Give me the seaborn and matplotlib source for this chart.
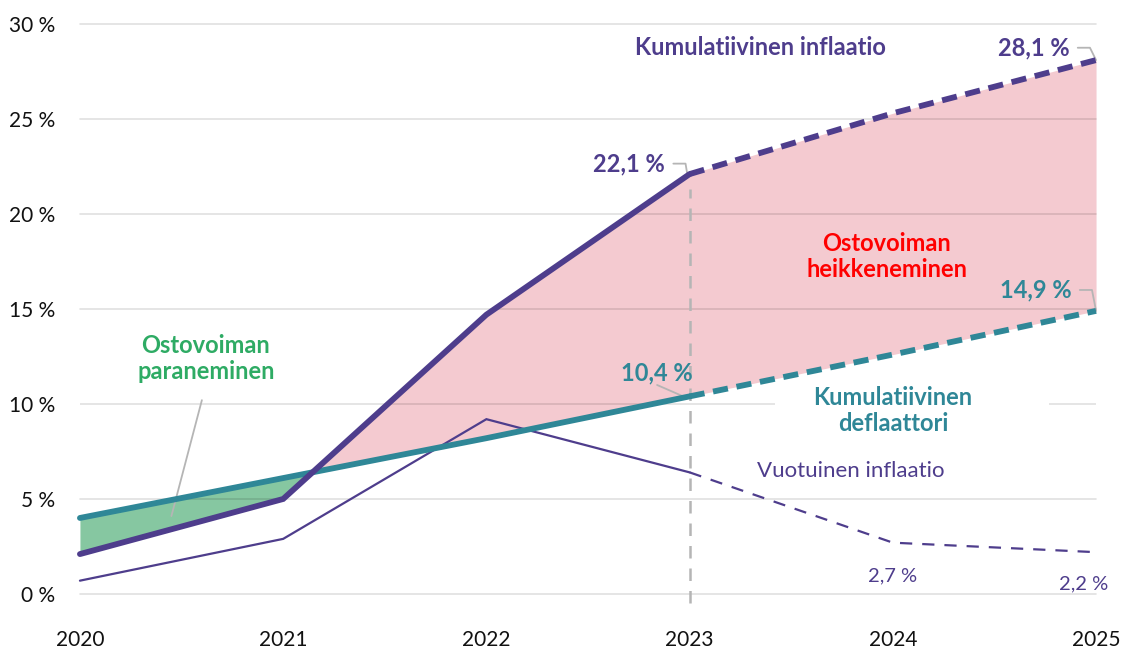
import pandas as pd
import matplotlib.pyplot as plt
import seaborn as sns

# data
years = [2020, 2021, 2022, 2023, 2024, 2025]
cum_inflation = [2.1, 5.0, 14.7, 22.1, 25.3, 28.1]
cum_deflator = [4.0, 6.1, 8.2, 10.4, 12.6, 14.9]
annual_inflation = [0.7, 2.9, 9.2, 6.4, 2.7, 2.2]
y_ticks = [0, 5, 10, 15, 20, 25, 30]
y_tick_labels = ['0 %', '5 %', '10 %', '15 %', '20 %', '25 %', '30 %']
forecast_start = 2023

df = pd.DataFrame({'year': years, 'cum_inf': cum_inflation,
                   'cum_def': cum_deflator, 'annual': annual_inflation})
hist = df[df['year'] <= forecast_start]
fcst = df[df['year'] >= forecast_start]

sns.set_style("white")
plt.rcParams['font.family'] = ['Lato', 'DejaVu Sans']

purple = '#4e3d8c'
teal = '#2f8797'
pink = '#f4cad0'
green_fill = '#86c7a1'
green_txt = '#2eab64'
grey = '#b5b5b5'

fig = plt.figure(figsize=(11.26, 6.5), dpi=100)
ax = fig.add_axes([0.071, 0.0862, 0.9024, 0.8769])

# fills between cumulative series
ax.fill_between(df['year'], df['cum_def'], df['cum_inf'],
                where=df['cum_inf'] >= df['cum_def'], interpolate=True,
                color=pink, lw=0, zorder=1)
ax.fill_between(df['year'], df['cum_def'], df['cum_inf'],
                where=df['cum_inf'] <= df['cum_def'], interpolate=True,
                color=green_fill, lw=0, zorder=1)

# gridlines (10 % line has a gap behind the deflator label)
for t in y_ticks:
    if t == 10:
        ax.hlines([t, t], [2020, 2024.77], [2023.42, 2025], color='black', alpha=0.12, lw=1.2, zorder=2)
    else:
        ax.axhline(t, color='black', alpha=0.12, lw=1.2, zorder=2)

# vertical forecast marker
ax.plot([forecast_start, forecast_start], [-0.5, 21.3], color=grey, lw=1.8,
        ls=(0, (5, 4)), zorder=2, clip_on=False)

# annual inflation
sns.lineplot(data=hist, x='year', y='annual', ax=ax, color=purple, lw=1.6, zorder=4)
l = sns.lineplot(data=fcst, x='year', y='annual', ax=ax, color=purple, lw=1.6, zorder=4)
l.lines[-1].set_dashes((5.5, 4.5))

# cumulative deflator
sns.lineplot(data=hist, x='year', y='cum_def', ax=ax, color=teal, lw=4.2, zorder=5)
l = sns.lineplot(data=fcst, x='year', y='cum_def', ax=ax, color=teal, lw=4.2, zorder=5)
l.lines[-1].set_dashes((2.6, 1.5))

# cumulative inflation
sns.lineplot(data=hist, x='year', y='cum_inf', ax=ax, color=purple, lw=4.2, zorder=6)
l = sns.lineplot(data=fcst, x='year', y='cum_inf', ax=ax, color=purple, lw=4.2, zorder=6)
l.lines[-1].set_dashes((2.6, 1.5))

for ln in ax.lines:
    ln.set_clip_on(False)
    ln.set_solid_joinstyle('miter')

ax.set_xlim(2020, 2025)
ax.set_ylim(0, 30)
ax.set_xticks(years)
ax.set_xticklabels([str(y) for y in years])
ax.set_yticks(y_ticks)
ax.set_yticklabels(y_tick_labels)
ax.tick_params(axis='x', length=0, pad=26, labelsize=15, colors='#111111')
ax.tick_params(axis='y', length=0, pad=18, labelsize=15, colors='#111111')
ax.set_xlabel('')
ax.set_ylabel('')
sns.despine(ax=ax, left=True, bottom=True)

bold = dict(fontsize=17, fontweight='bold')

# labels
ax.text(2023.35, 28.75, 'Kumulatiivinen inflaatio', color=purple, ha='center', va='center', **bold)
ax.text(2024.87, 28.75, '28,1 %', color=purple, ha='right', va='center', **bold)
ax.plot([2024.91, 2024.97, 2025.0], [28.75, 28.75, 28.1], color=grey, lw=1.3, clip_on=False, zorder=3)

ax.text(2022.88, 22.65, '22,1 %', color=purple, ha='right', va='center', **bold)
ax.plot([2022.92, 2022.98, 2022.99], [22.65, 22.65, 22.0], color=grey, lw=1.3, zorder=3)

ax.text(2023.97, 17.75, 'Ostovoiman\nheikkeneminen', color='#ff0000', ha='center', va='center',
        linespacing=1.15, **bold)

ax.text(2024.88, 16.0, '14,9 %', color=teal, ha='right', va='center', **bold)
ax.plot([2024.92, 2024.98, 2025.0], [16.0, 16.0, 14.9], color=grey, lw=1.3, zorder=3, clip_on=False)

ax.text(2022.84, 11.65, '10,4 %', color=teal, ha='center', va='center', **bold)
ax.plot([2022.84, 2022.99], [11.0, 10.3], color=grey, lw=1.3, zorder=3)

ax.text(2024.0, 9.65, 'Kumulatiivinen\ndeflaattori', color=teal, ha='center', va='center',
        linespacing=1.15, zorder=7, **bold)

ax.text(2023.33, 6.45, 'Vuotuinen inflaatio', color=purple, ha='left', va='center', fontsize=16)
ax.text(2024.0, 0.95, '2,7 %', color=purple, ha='center', va='center', fontsize=14.5)
ax.text(2025.06, 0.55, '2,2 %', color=purple, ha='right', va='center', fontsize=14.5)

ax.text(2020.62, 12.4, 'Ostovoiman\nparaneminen', color=green_txt, ha='center', va='center',
        linespacing=1.15, **bold)
ax.plot([2020.6, 2020.45], [10.2, 4.1], color=grey, lw=1.3, zorder=3)

fig.savefig('out.png', dpi=100)
